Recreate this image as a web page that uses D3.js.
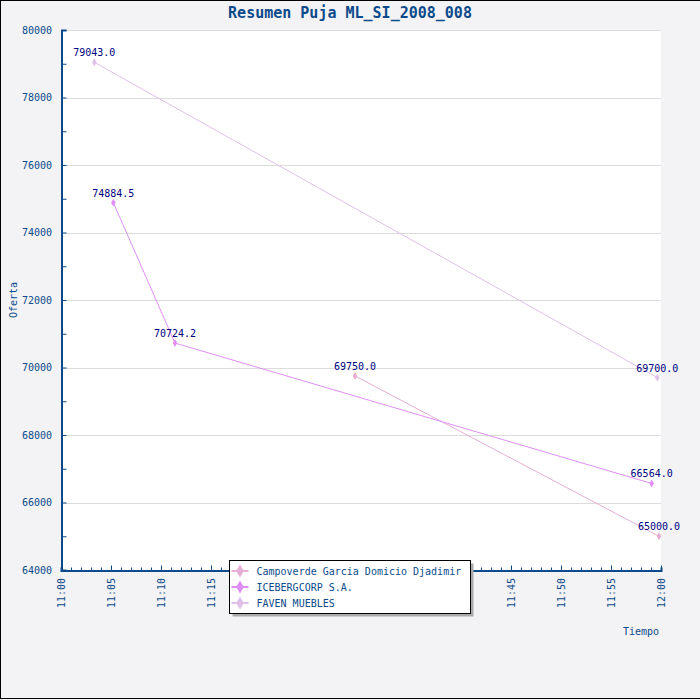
<!DOCTYPE html>
<html>
<head>
<meta charset="utf-8">
<script src="https://cdn.jsdelivr.net/npm/d3@7"></script>
<style>
  body { margin: 0; background: #f3f3f5; }
  text { font-family: "DejaVu Sans Mono", monospace; }
</style>
</head>
<body>
<svg id="chart"></svg>
<script>
// data
const seriesNames = ['Campoverde Garcia Domicio Djadimir', 'ICEBERGCORP S.A.', 'FAVEN MUEBLES']
const seriesColors = ['#e6aed2', '#e08ef6', '#dfc0e8']
const campoverdeTimes = ['11:29:24', '11:59:48']
const campoverdeValues = [69750.0, 65000.0]
const icebergTimes = ['11:05:14', '11:11:24', '11:59:04']
const icebergValues = [74884.5, 70724.2, 66564.0]
const favenTimes = ['11:03:20', '11:59:38']
const favenValues = [79043.0, 69700.0]
const yTicks = [64000, 66000, 68000, 70000, 72000, 74000, 76000, 78000, 80000]

const width = 700
const height = 700
const margin = { left: 61, right: 39, top: 30, bottom: 130 }
const visWidth = width - margin.left - margin.right
const visHeight = height - margin.top - margin.bottom
const axisColor = '#0b4a8b'

const parseTime = d3.timeParse('%H:%M:%S')
const toPoints = (times, values) => times.map((t, i) => ({ t: parseTime(t), v: values[i] }))
const series = [
  toPoints(campoverdeTimes, campoverdeValues),
  toPoints(icebergTimes, icebergValues),
  toPoints(favenTimes, favenValues),
]

const svg = d3.select('svg#chart').attr('width', width).attr('height', height)

svg.append('rect').attr('x', 0.5).attr('y', 0.5).attr('width', width).attr('height', height - 2)
  .attr('fill', '#f3f3f5').attr('stroke', '#000')

svg.append('text').attr('x', width / 2).attr('y', 18).attr('text-anchor', 'middle')
  .attr('font-size', 15).attr('font-weight', 'bold')
  .attr('fill', axisColor).text('Resumen Puja ML_SI_2008_008')

let g = svg.append('g').attr('transform', 'translate(' + margin.left + ', ' + margin.top + ')')

let xScale = d3.scaleTime()
  .domain([parseTime('11:00:00'), parseTime('12:00:00')])
  .range([0, visWidth])
let yScale = d3.scaleLinear().domain([64000, 80000]).range([visHeight, 0])

g.append('rect').attr('width', visWidth).attr('height', visHeight).attr('fill', '#fff')

// grid lines
g.selectAll('line.grid').data(yTicks.filter(d => d > 64000)).enter().append('line')
  .attr('class', 'grid')
  .attr('x1', 0).attr('x2', visWidth)
  .attr('y1', d => Math.round(yScale(d)) + 0.5).attr('y2', d => Math.round(yScale(d)) + 0.5)
  .attr('stroke', '#dcdcdc')

// y axis
let axisY = g.append('g').attr('transform', 'translate(0.5,0)')
  .call(d3.axisLeft(yScale).tickValues(d3.range(64000, 80001, 1000)).tickSize(-5).tickFormat(''))
axisY.select('.domain').attr('stroke', axisColor).attr('stroke-width', 2)
axisY.selectAll('.tick line').attr('stroke', axisColor)
g.selectAll('text.ylab').data(yTicks).enter().append('text').attr('class', 'ylab')
  .attr('x', -9).attr('y', d => yScale(d)).attr('dy', '0.35em').attr('text-anchor', 'end')
  .attr('font-size', 10).attr('fill', axisColor).text(d => d)

// x axis
let axisX = g.append('g').attr('transform', 'translate(0,' + (visHeight + 0.5) + ')')
  .call(d3.axisBottom(xScale).ticks(d3.timeMinute.every(1)).tickSize(-3).tickFormat(''))
axisX.select('.domain').attr('stroke', axisColor).attr('stroke-width', 2)
axisX.selectAll('.tick line').attr('stroke', axisColor)
  .attr('y2', d => d.getMinutes() % 5 === 0 ? -5 : -3)
const xTicks = xScale.ticks(d3.timeMinute.every(5))
const fmt = d3.timeFormat('%H:%M')
g.selectAll('text.xlab').data(xTicks).enter().append('text').attr('class', 'xlab')
  .attr('transform', d => 'translate(' + xScale(d) + ',' + (visHeight + 8) + ') rotate(-90)')
  .attr('dy', '0.35em').attr('text-anchor', 'end')
  .attr('font-size', 10).attr('fill', axisColor).text(d => fmt(d))

svg.append('text').attr('transform', 'translate(17,300) rotate(-90)').attr('text-anchor', 'middle')
  .attr('font-size', 10).attr('fill', axisColor).text('Oferta')
svg.append('text').attr('x', 659).attr('y', 635).attr('text-anchor', 'end')
  .attr('font-size', 10).attr('fill', axisColor).text('Tiempo')

// lines and points
const line = d3.line().x(d => xScale(d.t)).y(d => yScale(d.v))
const diamond = d3.symbol().type(d3.symbolDiamond)

series.forEach((pts, i) => {
  g.append('path').datum(pts).attr('d', line)
    .attr('fill', 'none').attr('stroke', seriesColors[i]).attr('stroke-width', 1)
  g.selectAll('path.pt' + i).data(pts).enter().append('path').attr('class', 'pt' + i)
    .attr('transform', d => 'translate(' + xScale(d.t) + ',' + yScale(d.v) + ')')
    .attr('d', diamond.size(18)()).attr('fill', seriesColors[i])
})
series.forEach((pts, i) => {
  g.selectAll('text.val' + i).data(pts).enter().append('text').attr('class', 'val' + i)
    .attr('x', d => xScale(d.t)).attr('y', d => yScale(d.v) - 6).attr('text-anchor', 'middle')
    .attr('font-size', 10).attr('fill', '#000080').text(d => d.v.toFixed(1))
})

// legend
let legend = svg.append('g').attr('transform', 'translate(229.5,560.5)')
legend.append('rect').attr('x', 3).attr('y', 3).attr('width', 241).attr('height', 53).attr('fill', '#aaa')
legend.append('rect').attr('width', 241).attr('height', 53).attr('fill', '#fff').attr('stroke', '#000')
seriesNames.forEach((name, i) => {
  const y = 10.5 + i * 16
  legend.append('line').attr('x1', 2).attr('x2', 19).attr('y1', y).attr('y2', y)
    .attr('stroke', seriesColors[i]).attr('stroke-width', 2)
  legend.append('path').attr('transform', 'translate(10.5,' + y + ')')
    .attr('d', diamond.size(50)()).attr('fill', seriesColors[i])
  legend.append('text').attr('x', 27).attr('y', y).attr('dy', '0.35em')
    .attr('font-size', 10).attr('fill', axisColor).text(name)
})
</script>
</body>
</html>
